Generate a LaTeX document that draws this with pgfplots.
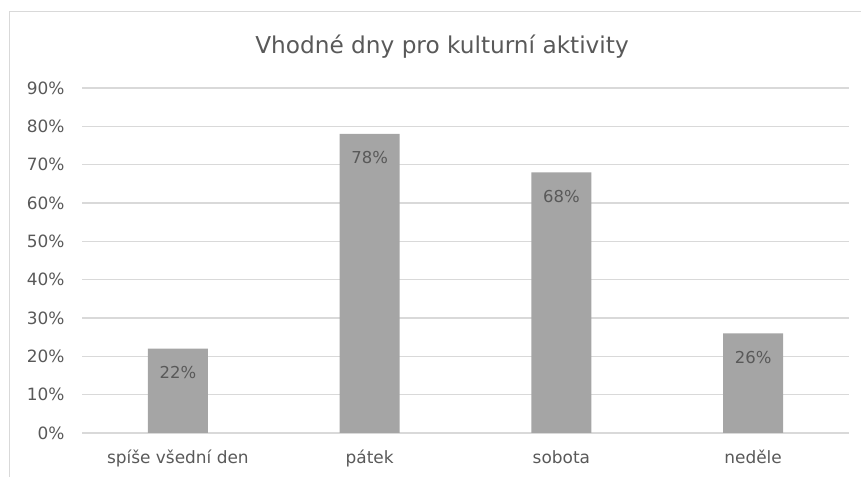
\documentclass[border=0pt]{standalone}
\usepackage{fontspec}
\setmainfont{DejaVu Sans}
\usepackage{pgfplots}
\pgfplotsset{compat=1.18}
\definecolor{txt}{HTML}{595959}
\definecolor{gridc}{HTML}{D9D9D9}
\definecolor{barc}{HTML}{A5A5A5}
\begin{document}
\begin{tikzpicture}[x=1bp,y=1bp]
\useasboundingbox (0,0) rectangle (861,477);
\draw[gridc, line width=1bp] (9,0) -- (9,465) -- (861,465);
\node[txt, font=\fontsize{23.3}{27}\selectfont] at (442,430) {Vhodné dny pro kulturní aktivity};
\begin{axis}[
  at={(82bp,44bp)}, anchor=south west,
  scale only axis, width=767bp, height=345bp,
  xmin=-0.5, xmax=3.5, ymin=0, ymax=90,
  ytick={0,10,...,90}, yticklabel={\pgfmathprintnumber{\tick}\%},
  xtick={0,1,2,3},
  xticklabels={spíše všední den, pátek, sobota, neděle},
  major tick length=0pt,
  axis line style={draw=none},
  ymajorgrids, grid style={gridc, line width=1.2bp},
  tick label style={txt, font=\fontsize{17}{20}\selectfont},
  /pgf/number format/assume math mode=true,
  yticklabel style={xshift=-14bp},
  xticklabel style={anchor=base, yshift=-31bp},
  ybar, bar width=60bp,
  nodes near coords={\pgfmathprintnumber{\pgfplotspointmeta}\%},
  every node near coord/.append style={txt, font=\fontsize{16.5}{19}\selectfont, anchor=center, yshift=-24bp},
  clip=false,
]
\addplot[fill=barc, draw=none] coordinates {(0,22) (1,78) (2,68) (3,26)};
\end{axis}
\end{tikzpicture}
\end{document}
